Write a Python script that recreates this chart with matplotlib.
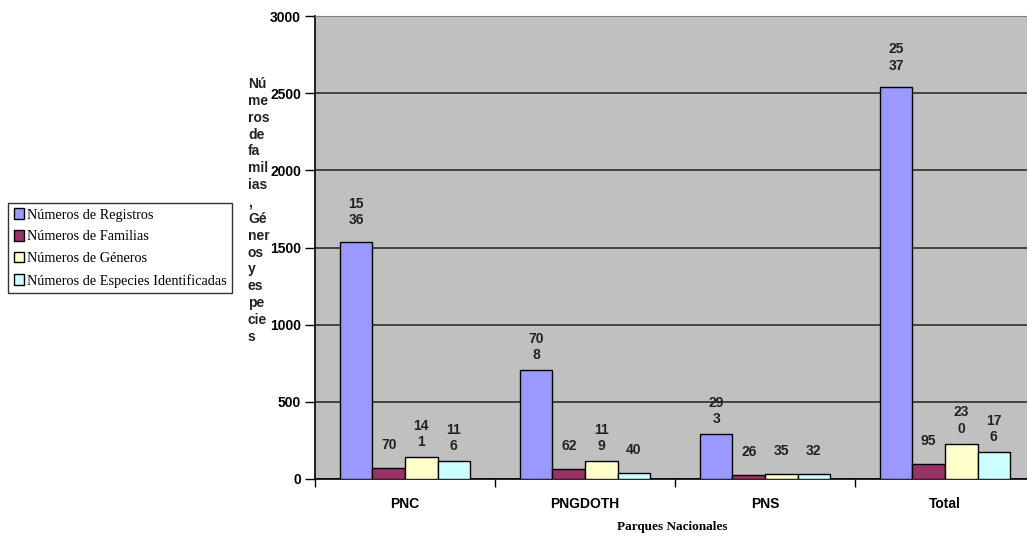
import matplotlib
matplotlib.use("Agg")
import matplotlib.pyplot as plt
from matplotlib.patches import Patch
import numpy as np

categories = ["PNC", "PNGDOTH", "PNS", "Total"]
series_names = ["Números de Registros", "Números de Familias",
                "Números de Géneros", "Números de Especies Identificadas"]
registros = [1536, 708, 293, 2537]
familias = [70, 62, 26, 95]
generos = [141, 119, 35, 230]
especies = [116, 40, 32, 176]
series_values = [registros, familias, generos, especies]
colors = ["#9999FF", "#993366", "#FFFFCC", "#CCFFFF"]
yticks = [0, 500, 1000, 1500, 2000, 2500, 3000]
ylabel_text = "Números de familias, Géneros y especies"
ylabel_chunks = ["Nú", "me", "ros", "de", "fa", "mil", "ias", ",", "Gé",
                 "ner", "os", "y", "es", "pe", "cie", "s"]
xlabel_text = "Parques Nacionales"

W, H = 1027, 538
fig = plt.figure(figsize=(W / 100, H / 100), dpi=100)
ax = fig.add_axes([315 / W, (H - 479) / H, 720 / W, 463 / H])
ax.set_facecolor("#C0C0C0")

x = np.arange(len(categories))
bw = 0.1806
for i, (vals, col) in enumerate(zip(series_values, colors)):
    pos = x + (i - 1.5) * bw
    ax.bar(pos, vals, width=bw, color=col, edgecolor="black", linewidth=1.0, zorder=3)
    for p, v in zip(pos, vals):
        s = str(v)
        lab = s if len(s) <= 2 else s[:2] + "\n" + s[2:]
        off = 30 if v > 1000 else 23
        ax.annotate(lab, (p, v), xytext=(0, off), textcoords="offset pixels",
                    ha="center", va="center", fontsize=10, fontweight="bold",
                    family="Liberation Sans", color="#222222", linespacing=1.2,
                    zorder=4)

ax.set_xlim(-0.5, 3.5)
ax.set_ylim(0, 3000)
ax.set_yticks(yticks)
ax.set_yticklabels([str(t) for t in yticks], fontsize=10, fontweight="bold",
                   family="Liberation Sans")
ax.tick_params(axis="y", direction="out", length=7, width=1, color="black", pad=3)
ax.yaxis.grid(True, color="#222222", linewidth=1.1, zorder=1)
ax.set_axisbelow(True)

ax.set_xticks(np.arange(-0.5, 4.0, 1.0))
ax.set_xticklabels([])
ax.tick_params(axis="x", which="major", direction="out", length=6, width=1, color="black")
ax.set_xticks(x, minor=True)
ax.set_xticklabels(categories, minor=True, fontsize=10, fontweight="bold",
                   family="Liberation Sans")
ax.tick_params(axis="x", which="minor", length=0, pad=13)

for side in ["left", "bottom"]:
    ax.spines[side].set_color("black")
    ax.spines[side].set_linewidth(1.2)
ax.spines["top"].set_color("#808080")
ax.spines["right"].set_visible(False)

fig.text(248 / W, 1 - 77 / H, "\n".join(ylabel_chunks), ha="left", va="top",
         fontsize=10, fontweight="bold", family="Liberation Sans",
         color="#222222", linespacing=1.26)

fig.text(672 / W, 1 - 527 / H, xlabel_text, ha="center", va="center",
         fontsize=9.5, fontweight="bold", family="Liberation Serif")

handles = [Patch(facecolor=c, edgecolor="black", linewidth=1.0) for c in colors]
leg = fig.legend(handles, series_names, loc="center left",
                 bbox_to_anchor=(8 / W, 1 - 248 / H), frameon=True, fancybox=False,
                 prop={"family": "Liberation Serif", "size": 10.3},
                 handlelength=0.75, handleheight=0.75, handletextpad=0.15,
                 labelspacing=0.6, borderpad=0.4, borderaxespad=0)
leg.get_frame().set_edgecolor("black")
leg.get_frame().set_linewidth(1.0)

fig.savefig("out.png", dpi=100)
